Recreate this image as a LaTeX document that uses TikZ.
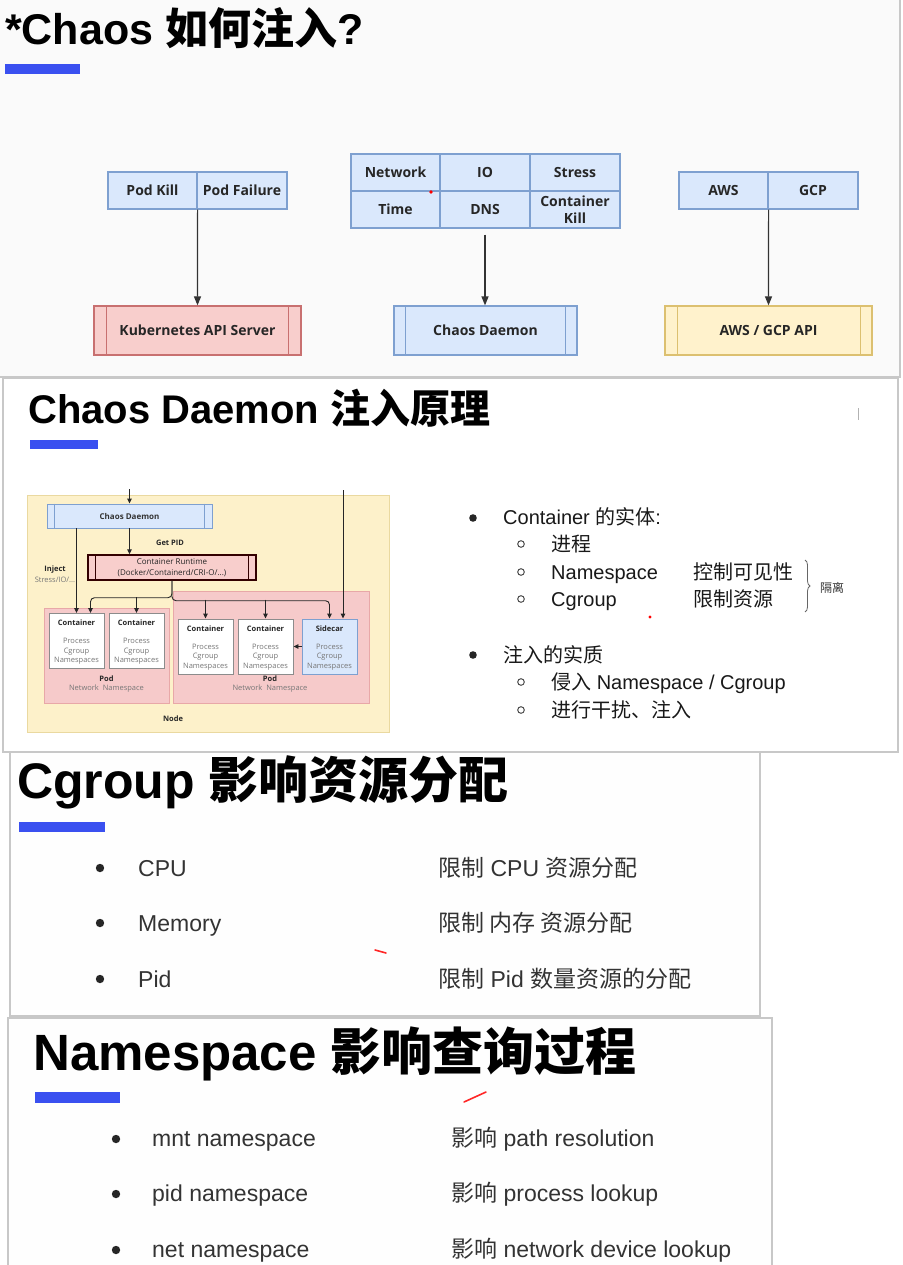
\documentclass[tikz,border=0pt]{standalone}
\usepackage{fontspec}
\setmainfont{Liberation Sans}
\newfontfamily\cjk{Noto Sans CJK SC}
\newfontfamily\boxfont{Open Sans}
\usetikzlibrary{arrows.meta,decorations.pathreplacing}
\newcommand\zh[1]{{\cjk #1}}
\newcommand\fs[1]{\fontsize{#1}{#1}\selectfont}
\definecolor{blueF}{HTML}{DAE8FC}
\definecolor{blueS}{HTML}{7EA0D0}
\definecolor{redF}{HTML}{F8CECC}
\definecolor{redS}{HTML}{C87070}
\definecolor{yelF}{HTML}{FFF2CC}
\definecolor{yelS}{HTML}{DCC070}
\definecolor{barblue}{RGB}{58,80,240}
\definecolor{frame}{HTML}{C8C8C8}
\definecolor{nodeF}{HTML}{FDF1CA}
\definecolor{nodeS}{HTML}{EAD9A0}
\definecolor{podF}{HTML}{F6CACA}
\definecolor{podS}{HTML}{E8A8A8}
\definecolor{txt}{HTML}{333333}
\definecolor{subtxt}{HTML}{777777}
\newcommand\mkctr[6]{% name, x, y, title, fill, stroke
  \node[ctrbox, fill=#5, draw=#6] (#1) at (#2,#3) {};
  \node[ctrtitle] (#1t) at ([yshift=-10pt]#1.north) {#4};
  \node[ctrsub] (#1s) at ([yshift=-38.5pt]#1.north) {Process\\Cgroup\\Namespaces};
}
\begin{document}
\begin{tikzpicture}[x=1pt,y=-1pt,
  cell/.style={draw=blueS, fill=blueF, line width=1.2pt, inner sep=0pt, font=\boxfont\bfseries\fontsize{14}{17}\selectfont, text=black!85, align=center},
  procbox/.style={line width=1.2pt, inner sep=0pt, font=\boxfont\bfseries\fs{14}, text=black!85},
  arr/.style={draw=black!80, line width=1.2pt, -{Triangle[length=9pt,width=7pt]}},
  sarr/.style={draw=black!85, line width=0.9pt, -{Triangle[length=5pt,width=4.5pt]}},
  ttl/.style={anchor=base west, inner sep=0pt, font=\bfseries\fs{#1}},
  item/.style={anchor=base west, inner sep=0pt, text=txt, font=\fs{#1}},
  small/.style={inner sep=0pt, font=\boxfont\fs{7.5}, text=black!80, align=center},
  smallb/.style={inner sep=0pt, font=\boxfont\bfseries\fs{7.5}, text=black!85, align=center},
  ctrbox/.style={line width=0.9pt, minimum width=55pt, minimum height=55pt, inner sep=0pt},
  ctrtitle/.style={inner sep=0pt, font=\boxfont\bfseries\fs{7.5}, text=black!85},
  ctrsub/.style={inner sep=0pt, font=\boxfont\fontsize{7.5}{9.5}\selectfont, text=subtxt, align=center},
  bul/.style={fill=black!85},
  sbul/.style={draw=black!70, line width=1pt}
]
\useasboundingbox (0,0) rectangle (902,1265);
\fill[white] (0,0) rectangle (902,1265);

% ================= Panel 1 =================
\fill[gray!4] (0,0) rectangle (900,377);
\draw[frame, line width=2pt] (900,0) -- (900,377) -- (0,377);
\node[ttl=43] (t1) at (5,45) {*Chaos \zh{如何注入}?};
\fill[barblue] (5,64) rectangle (80,74);

\node[cell, minimum width=89pt, minimum height=37pt] (pk) at (152.5,190.5) {Pod Kill};
\node[cell, minimum width=90pt, minimum height=37pt] (pf) at (242,190.5) {Pod Failure};
\node[procbox, draw=redS, fill=redF, minimum width=207pt, minimum height=49pt] (kas) at (197.5,330.5) {Kubernetes API Server};
\draw[redS, line width=1.2pt] ([xshift=13pt]kas.north west) -- ([xshift=13pt]kas.south west);
\draw[redS, line width=1.2pt] ([xshift=-13pt]kas.north east) -- ([xshift=-13pt]kas.south east);
\draw[arr] (pk.south east) -- (kas.north);

\node[cell, minimum width=89pt, minimum height=37pt] (net) at (395.5,172.5) {Network};
\node[cell, minimum width=90pt, minimum height=37pt] (io) at (485,172.5) {IO};
\node[cell, minimum width=90pt, minimum height=37pt] (st) at (575,172.5) {Stress};
\node[cell, minimum width=89pt, minimum height=37pt] (tm) at (395.5,209.5) {Time};
\node[cell, minimum width=90pt, minimum height=37pt] (dns) at (485,209.5) {DNS};
\node[cell, minimum width=90pt, minimum height=37pt] (ck) at (575,209.5) {Container\\Kill};
\node[procbox, draw=blueS, fill=blueF, minimum width=183pt, minimum height=49pt] (cdm) at (485.5,330.5) {Chaos Daemon};
\draw[blueS, line width=1.2pt] ([xshift=12pt]cdm.north west) -- ([xshift=12pt]cdm.south west);
\draw[blueS, line width=1.2pt] ([xshift=-12pt]cdm.north east) -- ([xshift=-12pt]cdm.south east);
\draw[arr] ([yshift=-6pt]dns.south) -- (cdm.north -| dns.south);

\node[cell, minimum width=89pt, minimum height=37pt] (aws) at (723.5,190.5) {AWS};
\node[cell, minimum width=90pt, minimum height=37pt] (gcp) at (813,190.5) {GCP};
\node[procbox, draw=yelS, fill=yelF, minimum width=207pt, minimum height=49pt] (api) at (768.5,330.5) {AWS / GCP API};
\draw[yelS, line width=1.2pt] ([xshift=13pt]api.north west) -- ([xshift=13pt]api.south west);
\draw[yelS, line width=1.2pt] ([xshift=-12pt]api.north east) -- ([xshift=-12pt]api.south east);
\draw[arr] (aws.south east) -- (api.north);
\fill[red] (431,192) circle (1.8);

% ================= Panel 2 =================
\filldraw[fill=white, draw=frame, line width=1.5pt] (3,378) rectangle (898,752);
\node[ttl=40] (t2) at (28,423) {Chaos Daemon \zh{注入原理}};
\fill[barblue] (30,440) rectangle (98,449);
\draw[gray!60, line width=1pt] (858,408) -- (858,420);

% diagram
\node[draw=nodeS, fill=nodeF, line width=0.8pt, minimum width=362pt, minimum height=237pt, inner sep=0pt] (nodebox) at (208,613.5) {};
\node[draw=podS, fill=podF, line width=0.8pt, minimum width=125pt, minimum height=95pt, inner sep=0pt] (podL) at (106.5,655.5) {};
\node[draw=podS, fill=podF, line width=0.8pt, minimum width=196pt, minimum height=112pt, inner sep=0pt] (podR) at (271,647) {};
\node[draw=blueS, fill=blueF, line width=0.9pt, minimum width=165pt, minimum height=24pt, inner sep=0pt, font=\boxfont\bfseries\fs{8}, text=black!80] (cd) at (129.5,516) {Chaos Daemon};
\draw[blueS, line width=0.9pt] ([xshift=8pt]cd.north west) -- ([xshift=8pt]cd.south west);
\draw[blueS, line width=0.9pt] ([xshift=-8pt]cd.north east) -- ([xshift=-8pt]cd.south east);
\node[draw=black!80!red, fill=redF, line width=1.4pt, minimum width=168pt, minimum height=25pt, inner sep=0pt, font=\boxfont\fontsize{8}{10.5}\selectfont, text=black!85, align=center] (cr) at (172,567.5) {Container Runtime\\(Docker/Containerd/CRI-O/...)};
\draw[black!80!red, line width=1.2pt] ([xshift=8pt]cr.north west) -- ([xshift=8pt]cr.south west);
\draw[black!80!red, line width=1.2pt] ([xshift=-8pt]cr.north east) -- ([xshift=-8pt]cr.south east);

\node[smallb] (getpid) at (170,543) {Get PID};
\node[smallb] (inj) at (55,570) {Inject};
\node[small, text=subtxt] (injs) at (55,580) {Stress/IO/...};

\mkctr{c1}{76.5}{641}{Container}{white}{black!45}
\mkctr{c2}{136.5}{641}{Container}{white}{black!45}
\mkctr{c3}{205.5}{646.5}{Container}{white}{black!45}
\mkctr{c4}{265.5}{646.5}{Container}{white}{black!45}
\mkctr{sc}{329.5}{646.5}{Sidecar}{blueF}{blueS}

\node[smallb] (podLt) at (106.5,679) {Pod};
\node[small, text=subtxt] (podLs) at (106.5,689) {Network\ \ Namespace};
\node[smallb] (podRt) at (270,679) {Pod};
\node[small, text=subtxt] (podRs) at (270,689) {Network\ \ Namespace};
\node[smallb] (nodet) at (173,719) {Node};

\coordinate (topin) at (129.5,489);
\coordinate (topsc) at (343,490);
\draw[sarr] (topin) -- (cd.north);
\draw[sarr] (cd.south) -- (cd.south |- cr.north);
\draw[sarr] (cd.south -| c1.north) -- (c1.north);
\draw[sarr, rounded corners=4pt] (cr.south) -- ++(0,17) -| ([xshift=14pt]c1.north);
\draw[sarr] ([yshift=16pt]c2.north) -- (c2.north);
\draw[sarr, rounded corners=4pt] (cr.south) -- ++(0,20) -| (sc.north);
\draw[sarr] ([yshift=19pt]c3.north) -- (c3.north);
\draw[sarr] ([yshift=19pt]c4.north) -- (c4.north);
\draw[sarr] (topsc) -- (topsc |- sc.north);
\draw[sarr] (sc.west) -- (c4.east);

% right text
\fill[bul] (473,518) circle (3.8);
\node[item=20, text=black!90] (r1) at (503,524) {Container \zh{的实体}:};
\draw[sbul] (521,544) circle (3.3);
\node[item=20, text=black!90] (r2) at (551,551) {\zh{进程}};
\draw[sbul] (521,572) circle (3.3);
\node[item=20, text=black!90] (r3) at (551,579) {Namespace};
\node[item=20, text=black!90] (r3b) at (693,579) {\zh{控制可见性}};
\draw[sbul] (521,599) circle (3.3);
\node[item=20, text=black!90] (r4) at (551,606) {Cgroup};
\node[item=20, text=black!90] (r4b) at (693,606) {\zh{限制资源}};
\draw[decorate, decoration={brace, amplitude=5pt}, black!60, line width=0.8pt] (805,560) -- (805,612);
\node[item=12, text=black!80] (gl) at (820,592) {\zh{隔离}};
\fill[red] (650,617) circle (1.6);
\fill[bul] (473,655) circle (3.8);
\node[item=20, text=black!90] (r5) at (503,662) {\zh{注入的实质}};
\draw[sbul] (521,682) circle (3.3);
\node[item=20, text=black!90] (r6) at (551,689) {\zh{侵入} Namespace / Cgroup};
\draw[sbul] (521,710) circle (3.3);
\node[item=20, text=black!90] (r7) at (551,717) {\zh{进行干扰、注入}};

% ================= Panel 3 =================
\filldraw[fill=gray!1, draw=frame, line width=1.5pt] (10,752) rectangle (760,1016);
\node[ttl=50] (t3) at (17,798) {Cgroup \zh{影响资源分配}};
\fill[barblue] (19,822) rectangle (105,832);
\fill[bul] (100,868) circle (4.2);
\node[item=23] (a1) at (138,876) {CPU};
\node[item=23] (a1b) at (438,876) {\zh{限制} CPU \zh{资源分配}};
\fill[bul] (100,923) circle (4.2);
\node[item=23] (a2) at (138,931) {Memory};
\node[item=23] (a2b) at (438,931) {\zh{限制 内存 资源分配}};
\fill[bul] (100,979) circle (4.2);
\node[item=23] (a3) at (138,987) {Pid};
\node[item=23] (a3b) at (438,987) {\zh{限制} Pid \zh{数量资源的分配}};
\draw[red!85, line width=1.6pt, line cap=round] (375,950) -- (386,953);

% ================= Panel 4 =================
\filldraw[fill=gray!1, draw=frame, line width=1.5pt] (8,1018) rectangle (772,1272);
\node[ttl=51] (t4) at (33,1070) {Namespace \zh{影响查询过程}};
\fill[barblue] (35,1092) rectangle (120,1103);
\draw[red!85, line width=1.6pt, line cap=round] (464,1102) -- (486,1092);
\fill[bul] (116,1139) circle (4.2);
\node[item=23] (b1) at (152,1146) {mnt namespace};
\node[item=23] (b1b) at (451,1146) {\zh{影响} path resolution};
\fill[bul] (116,1194) circle (4.2);
\node[item=23] (b2) at (152,1201) {pid namespace};
\node[item=23] (b2b) at (451,1201) {\zh{影响} process lookup};
\fill[bul] (116,1250) circle (4.2);
\node[item=23] (b3) at (152,1257) {net namespace};
\node[item=23] (b3b) at (451,1257) {\zh{影响} network device lookup};
\end{tikzpicture}
\end{document}
